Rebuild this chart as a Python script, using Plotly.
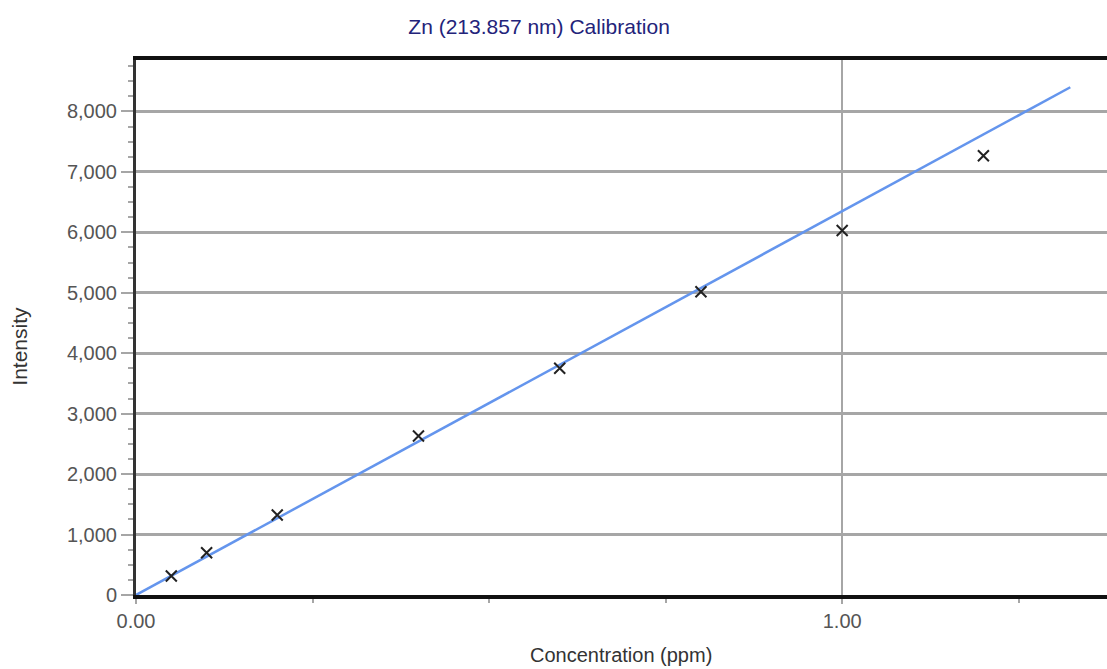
import plotly.graph_objects as go

# Calibration standards (ppm) and measured emission intensity
conc = [0.05, 0.10, 0.20, 0.40, 0.60, 0.80, 1.00, 1.20]
intensity = [314, 700, 1323, 2630, 3750, 5015, 6030, 7265]

# Linear calibration fit drawn across the working range
fit_conc = [0.0, 1.323]
fit_intensity = [0, 8399]

y_ticks = [0, 1000, 2000, 3000, 4000, 5000, 6000, 7000, 8000]
y_tick_text = ["0", "1,000", "2,000", "3,000", "4,000", "5,000", "6,000", "7,000", "8,000"]
x_ticks = [0.0, 1.0]
x_tick_text = ["0.00", "1.00"]

FONT = "Liberation Sans, Arial, sans-serif"
GRID = "#a6a6a6"

fig = go.Figure()
fig.add_trace(go.Scatter(
    x=fit_conc, y=fit_intensity, mode="lines",
    line=dict(color="#6495ed", width=2.5),
    hoverinfo="skip", showlegend=False,
))
fig.add_trace(go.Scatter(
    x=conc, y=intensity, mode="markers",
    marker=dict(symbol="x-thin", size=11, line=dict(color="#222222", width=2)),
    showlegend=False,
))

fig.update_layout(
    width=1107, height=669,
    margin=dict(l=136, r=0, t=60, b=74),
    paper_bgcolor="white", plot_bgcolor="white",
    title=dict(text="Zn (213.857 nm) Calibration", x=0.487, xanchor="center",
               xref="container", y=0.96, yanchor="middle", yref="container",
               font=dict(family=FONT, size=21, color="#23237a")),
    xaxis=dict(
        range=[0, 1.375], tickvals=x_ticks, ticktext=x_tick_text,
        showgrid=True, gridcolor=GRID, gridwidth=2,
        showline=True, linecolor="#111111", linewidth=4, mirror=True,
        ticks="outside", ticklen=5, tickcolor=GRID, tickwidth=2,
        minor=dict(dtick=0.25, tick0=0, ticks="outside", ticklen=4,
                   tickcolor=GRID, tickwidth=2, showgrid=False),
        tickfont=dict(family=FONT, size=20, color="#555555"),
        zeroline=False, fixedrange=True,
    ),
    yaxis=dict(
        range=[0, 8850], tickvals=y_ticks, ticktext=y_tick_text,
        showgrid=True, gridcolor=GRID, gridwidth=2.5,
        showline=True, linecolor="#333333", linewidth=3,
        ticks="outside", ticklen=12, tickcolor=GRID, tickwidth=2,
        minor=dict(dtick=250, tick0=0, ticks="outside", ticklen=5,
                   tickcolor=GRID, tickwidth=2, showgrid=False),
        tickfont=dict(family=FONT, size=20, color="#555555"),
        zeroline=False, fixedrange=True,
    ),
    annotations=[
        dict(text="Concentration (ppm)", xref="paper", yref="paper",
             x=0.499, y=-0.113, xanchor="center", yanchor="middle",
             showarrow=False, font=dict(family=FONT, size=20, color="#333333")),
        dict(text="Intensity", xref="paper", yref="paper",
             x=-0.12, y=0.465, xanchor="center", yanchor="middle",
             textangle=-90, showarrow=False,
             font=dict(family=FONT, size=21, color="#333333")),
    ],
)

fig.write_html("out.html")
